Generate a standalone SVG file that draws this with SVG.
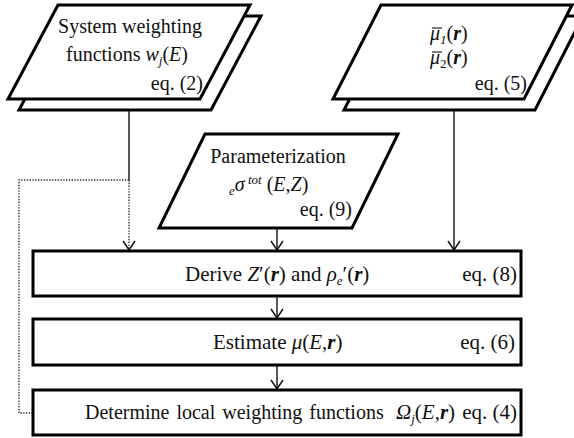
<svg xmlns="http://www.w3.org/2000/svg" width="574" height="438" viewBox="0 0 574 438">
  <style>
    .shape { fill: #fff; stroke: #000; stroke-width: 3; stroke-linejoin: miter; }
    .conn { fill: none; stroke: #111; stroke-width: 1.4; }
    .dot { fill: none; stroke: #333; stroke-width: 1.4; stroke-dasharray: 1.4 1.4; }
    .bar { stroke: #111; stroke-width: 1.1; }
    text { font-family: "Liberation Serif", "Times New Roman", serif; font-size: 20px; fill: #111; }
    .box-text { font-size: 21px; }
    .it { font-style: italic; }
    .bi { font-style: italic; font-weight: bold; }
    .sub { font-size: 13px; }
  </style>
  <defs>
    <marker id="arrow" viewBox="-11 -8 13 16" refX="0" refY="0" markerWidth="13" markerHeight="16" markerUnits="userSpaceOnUse" orient="auto">
      <path d="M-9,-6 L0,0 L-9,6" fill="none" stroke="#111" stroke-width="1.5"/>
    </marker>
  </defs>

  <g id="connectors">
    <line class="conn" x1="129" y1="99" x2="129" y2="180"/>
    <line class="dot" x1="129" y1="180" x2="129" y2="250" marker-end="url(#arrow)"/>
    <polyline class="dot" points="129,180 19,180 19,413 33,413"/>
    <line class="conn" x1="454" y1="99" x2="454" y2="250" marker-end="url(#arrow)"/>
    <line class="conn" x1="277" y1="228" x2="277" y2="250" marker-end="url(#arrow)"/>
    <line class="conn" x1="277" y1="296" x2="277" y2="318" marker-end="url(#arrow)"/>
    <line class="conn" x1="277" y1="365" x2="277" y2="389" marker-end="url(#arrow)"/>
  </g>

  <g id="weighting-input">
    <polygon class="shape" points="69,16 261,16 211,110 19,110"/>
    <polygon class="shape" points="58,5 250,5 200,99 8,99"/>
    <text x="130" y="33" text-anchor="middle">System weighting</text>
    <text x="127" y="61" text-anchor="middle">functions <tspan class="it">w</tspan><tspan class="it sub" dy="4">j</tspan><tspan dy="-4">(</tspan><tspan class="it">E</tspan>)</text>
    <text x="203" y="90" text-anchor="end">eq. (2)</text>
  </g>

  <g id="mean-attenuation-input">
    <polygon class="shape" points="392,16 583,16 535,110 344,110"/>
    <polygon class="shape" points="381,5 572,5 524,99 333,99"/>
    <!-- bars over the mean attenuation symbols -->
    <line class="bar" x1="432" y1="28" x2="442" y2="28"/>
    <line class="bar" x1="432" y1="52" x2="442" y2="52"/>
    <text x="430" y="40"><tspan class="it">μ</tspan><tspan class="it sub" dy="4">1</tspan><tspan dy="-4">(</tspan><tspan class="bi">r</tspan>)</text>
    <text x="430" y="64"><tspan class="it">μ</tspan><tspan class="sub" dy="4">2</tspan><tspan dy="-4">(</tspan><tspan class="bi">r</tspan>)</text>
    <text x="527" y="90" text-anchor="end">eq. (5)</text>
  </g>

  <g id="parameterization">
    <polygon class="shape" points="205,134 398,134 352,228 159,228"/>
    <text x="278" y="163" text-anchor="middle">Parameterization</text>
    <text x="229" y="191"><tspan class="it sub" dy="4">e</tspan><tspan class="it" dy="-4">σ</tspan><tspan class="it sub" dy="-7"> tot</tspan><tspan dy="7"> (</tspan><tspan class="it">E</tspan>,<tspan class="it">Z</tspan>)</text>
    <text x="352" y="216" text-anchor="end">eq. (9)</text>
  </g>

  <g id="derive">
    <rect class="shape" x="33" y="251" width="488" height="45"/>
    <text class="box-text" x="185" y="281">Derive <tspan class="it">Z</tspan>′(<tspan class="bi">r</tspan>) and <tspan class="it">ρ</tspan><tspan class="it sub" dy="4">e</tspan><tspan dy="-4">′(</tspan><tspan class="bi">r</tspan>)</text>
    <text class="box-text" x="517" y="281" text-anchor="end">eq. (8)</text>
  </g>

  <g id="estimate">
    <rect class="shape" x="33" y="319" width="488" height="46"/>
    <text class="box-text" x="213" y="349">Estimate <tspan class="it">μ</tspan>(<tspan class="it">E</tspan>,<tspan class="bi">r</tspan>)</text>
    <text class="box-text" x="515" y="349" text-anchor="end">eq. (6)</text>
  </g>

  <g id="determine">
    <rect class="shape" x="33" y="390" width="488" height="45"/>
    <text x="85" y="419" font-size="20.5" word-spacing="2">Determine local weighting functions</text>
    <text class="box-text" x="396" y="419"><tspan class="it">Ω</tspan><tspan class="it sub" dy="4">j</tspan><tspan dy="-4">(</tspan><tspan class="it">E</tspan>,<tspan class="bi">r</tspan>)</text>
    <text class="box-text" x="517" y="419" text-anchor="end">eq. (4)</text>
  </g>
</svg>
